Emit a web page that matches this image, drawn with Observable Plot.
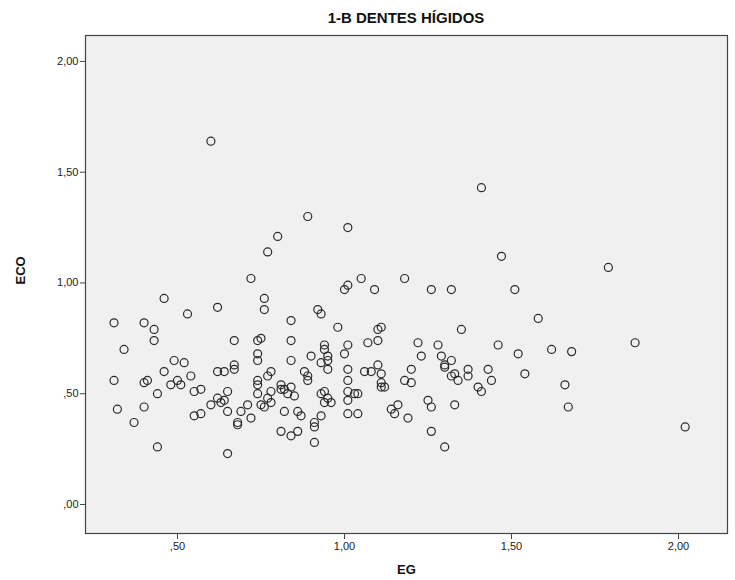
<!DOCTYPE html>
<html>
<head>
<meta charset="utf-8">
<script src="https://cdn.jsdelivr.net/npm/d3@7"></script>
<script src="https://cdn.jsdelivr.net/npm/@observablehq/plot@0.6"></script>
<style>
  html, body { margin: 0; padding: 0; background: #fff; }
  #title { height: 30px; width: 642px; margin-left: 85px; text-align: center;
    font: bold 15px "Liberation Sans", Arial, sans-serif; line-height: 36px; color: #111; overflow: visible; }
  svg { display: block; }
</style>
</head>
<body>
<div id="title">1-B DENTES HÍGIDOS</div>
<div id="chart"></div>
<script>
const title = "1-B DENTES HÍGIDOS";
const xLabel = "EG";
const yLabel = "ECO";
const xTicks = [0.5, 1, 1.5, 2];
const xTickLabels = [",50", "1,00", "1,50", "2,00"];
const yTicks = [0, 0.5, 1, 1.5, 2];
const yTickLabels = [",00", ",50", "1,00", "1,50", "2,00"];

const EG = [
0.31,0.40,0.43,0.43,0.34,0.49,0.46,0.31,0.40,0.41,
0.48,0.44,0.32,0.40,0.37,0.44,0.50,0.53,0.62,0.46,
0.76,0.76,0.84,0.67,0.74,0.75,0.84,0.74,0.74,0.84,
0.52,0.62,0.64,0.67,0.67,0.78,0.77,0.54,0.51,0.57,
0.55,0.65,0.74,0.74,0.74,0.78,0.77,0.81,0.82,0.83,
0.62,0.64,0.63,0.60,0.75,0.76,0.78,0.71,0.69,0.65,
0.82,0.57,0.55,0.68,0.68,0.72,0.81,0.84,0.65,0.84,
0.81,0.92,0.93,0.98,0.94,0.94,0.95,0.95,0.95,0.93,
0.90,1.01,1.00,1.01,1.07,1.10,1.10,1.11,1.22,1.23,
1.06,1.08,1.10,1.11,1.11,1.12,1.11,1.20,1.18,1.20,
0.88,0.89,0.89,1.01,0.85,0.94,0.93,0.95,0.94,0.96,
1.01,1.03,1.04,1.01,1.01,1.04,0.86,0.87,0.93,0.91,
0.91,0.86,0.91,1.14,1.16,1.15,1.19,1.58,1.35,1.28,
1.46,1.52,1.29,1.32,1.30,1.30,1.37,1.43,1.33,1.32,
1.34,1.37,1.44,1.54,1.40,1.41,1.25,1.26,1.33,1.26,
1.30,1.62,1.68,1.87,1.66,1.67,2.02,0.60,0.72,0.89,
1.01,0.80,0.77,1.01,1.00,1.05,1.09,1.18,1.41,1.47,
1.26,1.32,1.51,1.79
];
const ECO = [
0.82,0.82,0.79,0.74,0.70,0.65,0.60,0.56,0.55,0.56,
0.54,0.50,0.43,0.44,0.37,0.26,0.56,0.86,0.89,0.93,
0.93,0.88,0.83,0.74,0.74,0.75,0.74,0.68,0.65,0.65,
0.64,0.60,0.60,0.63,0.61,0.60,0.58,0.58,0.54,0.52,
0.51,0.51,0.56,0.54,0.50,0.51,0.48,0.54,0.52,0.50,
0.48,0.47,0.46,0.45,0.45,0.44,0.46,0.45,0.42,0.42,
0.42,0.41,0.40,0.37,0.36,0.39,0.33,0.31,0.23,0.53,
0.52,0.88,0.86,0.80,0.72,0.70,0.67,0.65,0.61,0.64,
0.67,0.72,0.68,0.61,0.73,0.74,0.79,0.80,0.73,0.67,
0.60,0.60,0.63,0.59,0.55,0.53,0.53,0.61,0.56,0.55,
0.60,0.58,0.56,0.56,0.49,0.51,0.50,0.48,0.46,0.46,
0.51,0.50,0.50,0.47,0.41,0.41,0.42,0.40,0.40,0.37,
0.35,0.33,0.28,0.43,0.45,0.41,0.39,0.84,0.79,0.72,
0.72,0.68,0.67,0.65,0.63,0.62,0.61,0.61,0.59,0.58,
0.56,0.58,0.56,0.59,0.53,0.51,0.47,0.44,0.45,0.33,
0.26,0.70,0.69,0.73,0.54,0.44,0.35,1.64,1.02,1.30,
1.25,1.21,1.14,0.99,0.97,1.02,0.97,1.02,1.43,1.12,
0.97,0.97,0.97,1.07
];

const data = EG.map((x, i) => ({EG: x, ECO: ECO[i]}));
const font = '"Liberation Sans", Arial, sans-serif';

const chart = Plot.plot({
  width: 735,
  height: 550,
  marginTop: 5,
  marginBottom: 47,
  marginLeft: 85,
  marginRight: 8,
  style: {fontFamily: font, fontSize: "11px", color: "#222", background: "#fff"},
  x: {domain: [0.2246, 2.1467]},
  y: {domain: [-0.131, 2.117]},
  marks: [
    Plot.frame({fill: "#f0f0f0", stroke: "none"}),
    Plot.dot(data, {x: "EG", y: "ECO", r: 4, stroke: "#2a2a2a", strokeWidth: 1.2, fill: "none"}),
    Plot.frame({stroke: "#444", strokeWidth: 1.2}),
    Plot.axisX({ticks: xTicks, tickFormat: (d) => xTickLabels[xTicks.indexOf(d)], tickSize: 6, tickPadding: 3, label: null, stroke: "#444", fill: "#222"}),
    Plot.axisY({ticks: yTicks, tickFormat: (d) => yTickLabels[yTicks.indexOf(d)], tickSize: 5, tickPadding: 2, label: null, stroke: "#444", fill: "#222"}),
    Plot.text([xLabel], {frameAnchor: "bottom", dy: 40, text: d => d, fontWeight: "bold", fontSize: 13, fill: "#111"}),
    Plot.text([yLabel], {frameAnchor: "left", dx: -65, rotate: -90, text: d => d, fontWeight: "bold", fontSize: 13, fill: "#111"})
  ]
});
document.getElementById("chart").appendChild(chart);
</script>
</body>
</html>
